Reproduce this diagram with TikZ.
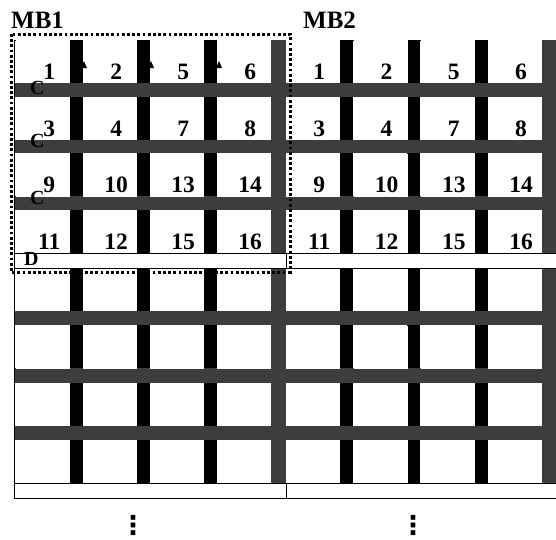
\documentclass[tikz,border=0pt]{standalone}
\usepackage{fontspec}
\setmainfont{Liberation Serif}
\newfontfamily\symfont{DejaVu Sans}
\usetikzlibrary{positioning}

\begin{document}
\begin{tikzpicture}[
    x=1pt, y=-1pt,
    cell/.style={
      fill=white,
      minimum width=54pt,
      minimum height=43pt,
      inner sep=0pt,
      anchor=north west
    },
    num/.style={font=\bfseries\fontsize{23.5}{25}\selectfont, inner sep=0pt, anchor=base},
    title/.style={font=\bfseries\fontsize{25}{27}\selectfont, inner sep=0pt, anchor=base west},
    tag/.style={font=\bfseries\fontsize{20}{22}\selectfont, inner sep=0pt, anchor=base west},
    more/.style={font=\symfont\bfseries\fontsize{26}{28}\selectfont, inner sep=0pt},
    greybar/.style={fill=black!76},
    strip/.style={draw=black, fill=white, line width=0.8pt},
    dotbox/.style={line width=3pt, dash pattern=on 2.8pt off 2.4pt}
  ]
    \useasboundingbox (0,0) rectangle (556,539);
    \draw[fill=white, line width=0.8pt] (14,40) rectangle (556,498);

    \node[tag] (lblB) at (267,66) {B};

    \foreach \xo/\p in {16/67, 286/67.3} {
      \foreach \col in {0,1,2}
        \fill[black] (\xo+54+\col*\p,40) rectangle (\xo+67+\col*\p,483);
      \fill[greybar] (\xo+54+3*\p,40) rectangle (\xo+270,483);
    }
    \foreach \ya/\yb in {83/96.7, 139.7/153.3, 196.3/210, 311/325.3, 368.3/382.7, 425.7/440}
      \fill[greybar] (15,\ya) rectangle (556,\yb);

    \foreach \m/\xo/\p in {1/16/67, 2/286/67.3}
      \foreach \row/\yo in {0/40, 1/96.7, 2/153.3, 3/210, 4/268, 5/325.3, 6/382.7, 7/440}
        \foreach \col in {0,...,3}
          \node[cell] (c\m-\row-\col) at (\xo+\col*\p,\yo) {};

    \foreach \m in {1,2}
      \foreach \row/\na/\nb/\nc/\nd in {0/1/2/5/6, 1/3/4/7/8, 2/9/10/13/14, 3/11/12/15/16}
        \foreach \col/\n in {0/\na, 1/\nb, 2/\nc, 3/\nd}
          \node[num] (n\m-\row-\col) at ([xshift=6pt, yshift=4pt]c\m-\row-\col.south) {\n};

    \foreach \ya in {253, 483}
      \foreach \xa/\xb in {14/286, 286/556}
        \draw[strip] (\xa,\ya) rectangle (\xb,\ya+15);

    \foreach \bx in {84,151,219}
      \fill (\bx,61) -- (\bx+3,68) -- (\bx-3,68) -- cycle;

    \foreach \y [count=\k] in {94,147,204}
      \node[tag] (lblC\k) at (30,\y) {C};
    \node[tag] (lblD) at (24,265) {D};

    \node[title] (mb1) at (11,28) {MB1};
    \node[title] (mb2) at (303,28) {MB2};

    \node[more] (more1) at (133,525) {⋮};
    \node[more] (more2) at (413,525) {⋮};

    \draw[dotbox] (11,34) rectangle (290,272);
  \end{tikzpicture}
\end{document}
